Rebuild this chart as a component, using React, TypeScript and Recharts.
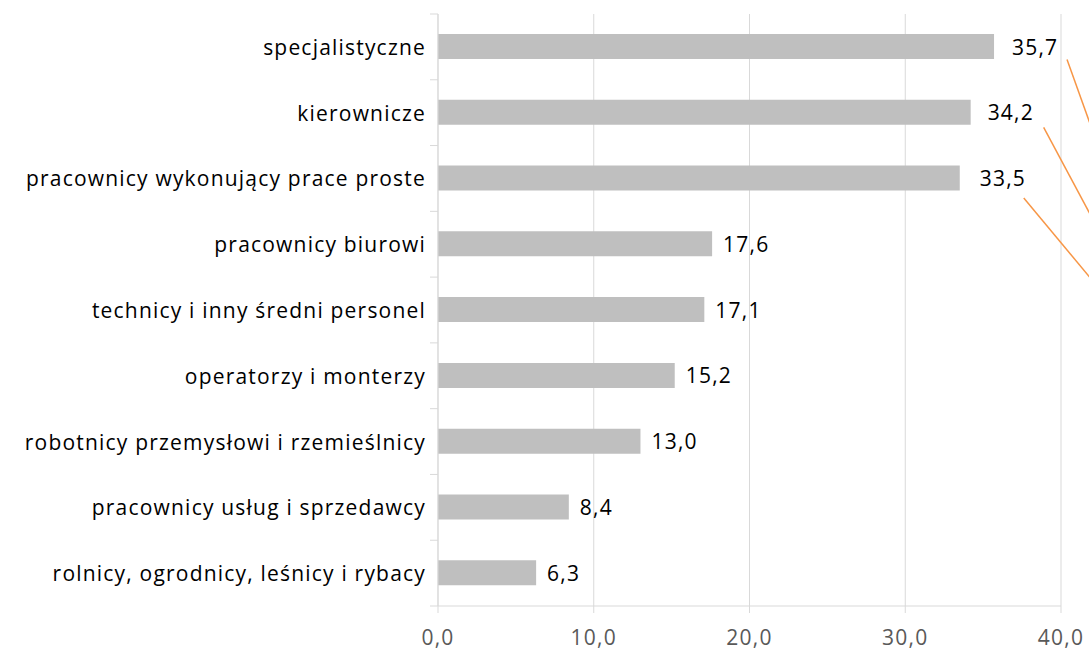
import React from 'react';
import { Bar, BarChart, CartesianGrid, LabelList, XAxis, YAxis } from 'recharts';

const CATEGORIES = [
  'specjalistyczne',
  'kierownicze',
  'pracownicy wykonujący prace proste',
  'pracownicy biurowi',
  'technicy i inny średni personel',
  'operatorzy i monterzy',
  'robotnicy przemysłowi i rzemieślnicy',
  'pracownicy usług i sprzedawcy',
  'rolnicy, ogrodnicy, leśnicy i rybacy',
];
const VALUES = [35.7, 34.2, 33.5, 17.6, 17.1, 15.2, 13.0, 8.4, 6.3];
const X_TICKS = [0, 10, 20, 30, 40];

const DATA = CATEGORIES.map((name, i) => ({ name, value: VALUES[i] }));

const FONT = '"Open Sans", Lato, sans-serif';
const FONT_SIZE = 21;
const SPACING = 1.2;
const GRID = '#d9d9d9';
const ORANGE = '#f79646';
const BAND = (606 - 14) / CATEGORIES.length;

// stray leader lines on the top three labels (offsets from label start)
const LEADERS: Record<number, { dx: number; dy: number; slope: number; gap: number }> = {
  0: { dx: 55, dy: 13, slope: 2.79, gap: 18 },
  1: { dx: 56, dy: 15, slope: 1.87, gap: 17 },
  2: { dx: 44, dy: 20, slope: 1.2, gap: 20 },
};

const fmt = (v: number) => v.toFixed(1).replace('.', ',');

function CategoryTick(props: any) {
  const { x, y, payload, index } = props;
  const top = y - BAND / 2;
  return (
    <g>
      <line x1={x - 8} x2={x} y1={top} y2={top} stroke={GRID} />
      {index === CATEGORIES.length - 1 && (
        <line x1={x - 8} x2={x} y1={y + BAND / 2} y2={y + BAND / 2} stroke={GRID} />
      )}
      <text
        x={x - 12}
        y={y}
        textAnchor="end"
        dominantBaseline="central"
        fontFamily={FONT}
        fontSize={FONT_SIZE}
        letterSpacing={SPACING}
        fill="#000"
      >
        {payload.value}
      </text>
    </g>
  );
}

function ValueLabel(props: any) {
  const { x, y, width, height, value, index } = props;
  const lead = LEADERS[index];
  const tx = x + width + (lead ? lead.gap : 11);
  const ty = y + height / 2;
  return (
    <g>
      <text
        x={tx}
        y={ty}
        dominantBaseline="central"
        fontFamily={FONT}
        fontSize={FONT_SIZE}
        letterSpacing={SPACING}
        fill="#000"
      >
        {fmt(Number(value))}
      </text>
      {lead && (
        <line
          x1={tx + lead.dx}
          y1={ty + lead.dy}
          x2={tx + lead.dx + 80}
          y2={ty + lead.dy + 80 * lead.slope}
          stroke={ORANGE}
          strokeWidth={1.5}
        />
      )}
    </g>
  );
}

export default function App() {
  return (
    <div style={{ position: 'fixed', left: 0, top: 0, width: 1089, height: 655, background: '#fff' }}>
      <BarChart
        width={1089}
        height={655}
        data={DATA}
        layout="vertical"
        margin={{ top: 14, right: 28, bottom: 0, left: 0 }}
      >
        <CartesianGrid horizontal={false} stroke={GRID} />
        <XAxis
          type="number"
          domain={[0, 40]}
          ticks={X_TICKS}
          tickFormatter={fmt}
          axisLine={{ stroke: GRID }}
          tickLine={{ stroke: GRID }}
          tickSize={7}
          tickMargin={17}
          tick={{ fill: '#595959', fontFamily: FONT, fontSize: FONT_SIZE, letterSpacing: SPACING }}
          height={49}
        />
        <YAxis
          type="category"
          dataKey="name"
          width={438}
          axisLine={{ stroke: GRID }}
          tickLine={false}
          tickSize={0}
          tickMargin={0}
          tick={<CategoryTick />}
          interval={0}
        />
        <Bar dataKey="value" fill="#bfbfbf" barSize={25} isAnimationActive={false}>
          <LabelList dataKey="value" content={<ValueLabel />} />
        </Bar>
      </BarChart>
    </div>
  );
}
